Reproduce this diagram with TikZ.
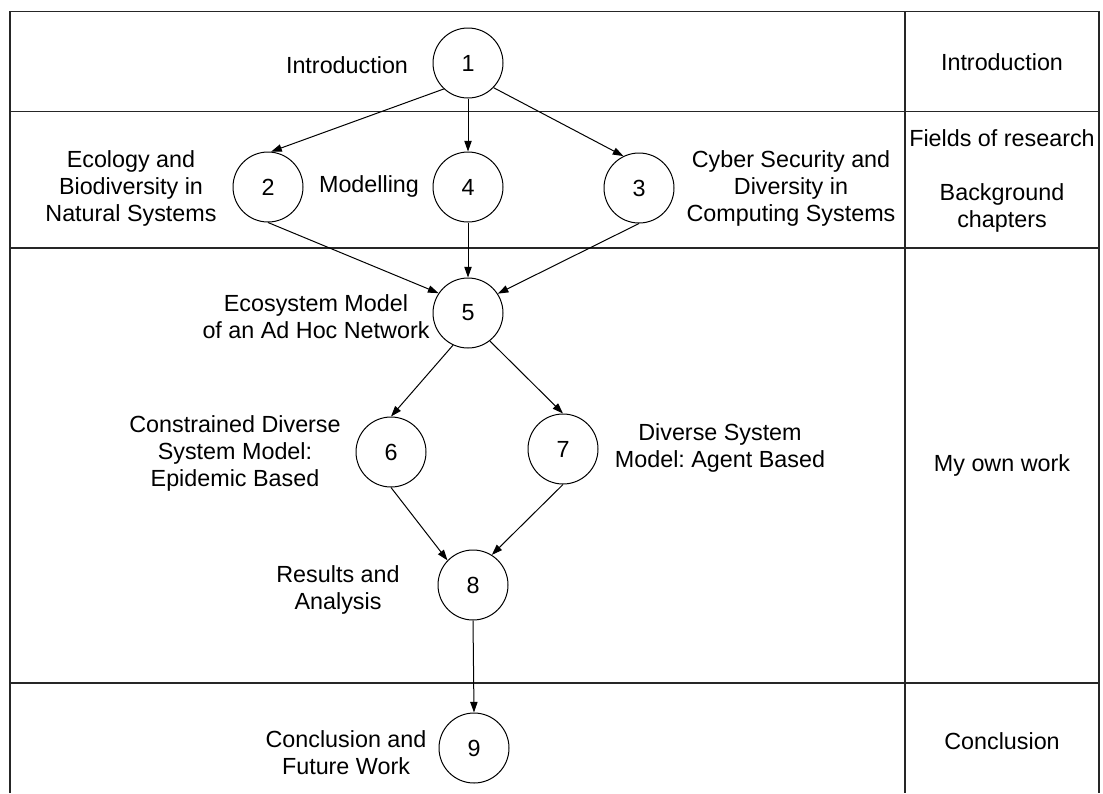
\documentclass[tikz,border=0pt]{standalone}
\usepackage{fontspec}
\setmainfont{Liberation Sans}
\usetikzlibrary{arrows.meta}
\frenchspacing
\begin{document}
\begin{tikzpicture}[x=0.75pt,y=-0.75pt,
  every node/.style={font=\fontsize{17.5}{20.25}\selectfont},
  chap/.style={circle,draw,line width=0.75pt,minimum size=52.5pt,inner sep=0pt},
  lbl/.style={align=center,inner sep=0pt},
  grid/.style={line width=1pt,draw=black!85},
  link/.style={line width=0.75pt,-{Triangle[length=8pt,width=5.5pt]}}]
\useasboundingbox (0,0) rectangle (1103,793);

% table frame and row/column rules
\draw[grid] (10,793) -- (10,11.5) -- (1099,11.5) -- (1099,793);
\draw[grid] (905,11.5) -- (905,793);
\draw[grid] (10,111.5) -- (1099,111.5);
\draw[grid] (10,248) -- (1099,248);
\draw[grid] (10,683) -- (1099,683);

% chapter circles
\node[chap] (n1) at (468,63) {1};
\node[chap] (n2) at (268,187) {2};
\node[chap] (n4) at (468,187) {4};
\node[chap] (n3) at (639,188) {3};
\node[chap] (n5) at (468,313) {5};
\node[chap] (n6) at (391,452) {6};
\node[chap] (n7) at (563,449) {7};
\node[chap] (n8) at (473,585) {8};
\node[chap] (n9) at (474,748) {9};

% chapter titles
\node[lbl] (tIntro) at (347,65) {Introduction};
\node[lbl] (tEco) at (131,188) {Ecology and\\Biodiversity in\\Natural Systems};
\node[lbl] (tMod) at (369,186) {Modelling};
\node[lbl] (tCyb) at (791,188) {Cyber Security and\\Diversity in\\Computing Systems};
\node[lbl] (tEcoM) at (316,317) {Ecosystem Model\\of an Ad Hoc Network};
\node[lbl] (tCon) at (235,453) {Constrained Diverse\\System Model:\\Epidemic Based};
\node[lbl] (tDiv) at (720,448) {Diverse System\\Model: Agent Based};
\node[lbl] (tRes) at (338,590) {Results and\\Analysis};
\node[lbl] (tFin) at (346,753) {Conclusion and\\Future Work};

% part names in the right column
\node[lbl] (rIntro) at (1002,62) {Introduction};
\node[lbl] (rFields) at (1002,138) {Fields of research};
\node[lbl] (rBack) at (1002,208) {Background\\chapters};
\node[lbl] (rOwn) at (1002,465) {My own work};
\node[lbl] (rConc) at (1002,741) {Conclusion};

% dependencies between chapters
\draw[link] (n1.227) -- (n2.85);
\draw[link] (n1.south) -- (n4.north);
\draw[link] (n1.316) -- (n3.116);
\draw[link] (n2.south) -- (n5.146);
\draw[link] (n4.south) -- (n5.north);
\draw[link] (n3.south) -- (n5.33);
\draw[link] (n5.245) -- (n6.north);
\draw[link] (n5.308) -- (n7.north);
\draw[link] (n6.south) -- (n8.136);
\draw[link] (n7.south) -- (n8.58);
\draw[link] (n8.south) -- (n9.north);
\end{tikzpicture}
\end{document}
